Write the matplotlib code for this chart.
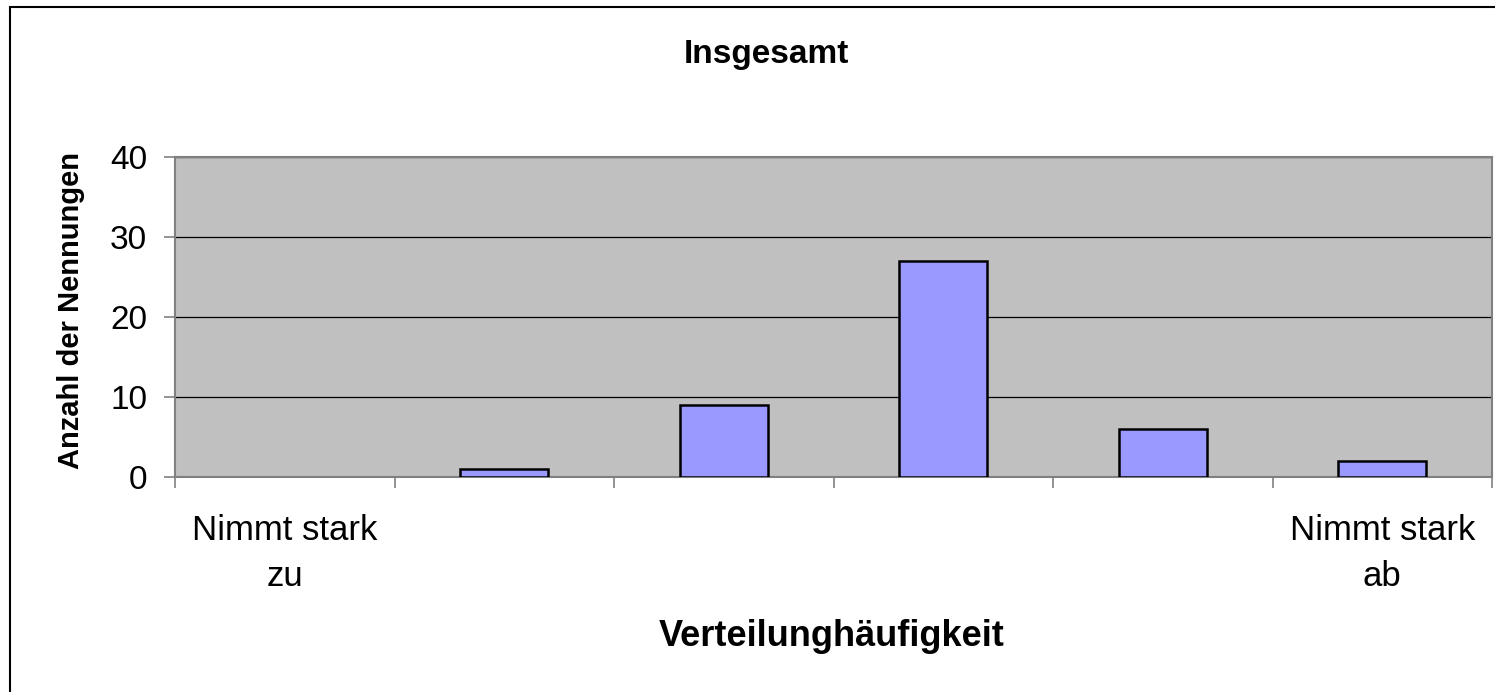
import matplotlib
matplotlib.use("Agg")
import matplotlib.pyplot as plt
from matplotlib.patches import Rectangle
import numpy as np

# data
categories = ["Nimmt stark\nzu", "", "", "", "", "Nimmt stark\nab"]
counts = [0, 1, 9, 27, 6, 2]
y_ticks = [0, 10, 20, 30, 40]

plt.rcParams['font.family'] = ['Liberation Sans', 'DejaVu Sans']

W, H = 1495, 692
fig = plt.figure(figsize=(W / 100, H / 100), dpi=100)
ax = fig.add_axes([175 / W, 1 - 477 / H, (1492 - 175) / W, (477 - 157) / H])

x = np.arange(len(counts))
ax.set_facecolor("#c0c0c0")
edges = ["black" if c > 0 else "none" for c in counts]
ax.bar(x, counts, width=0.4, color="#9999ff", edgecolor=edges, linewidth=1.8, zorder=3)

ax.set_xlim(-0.5, len(counts) - 0.5)
ax.set_ylim(0, 40)
ax.set_yticks(y_ticks)
ax.set_yticklabels([str(v) for v in y_ticks], fontsize=24)
ax.yaxis.grid(True, color="black", linewidth=0.9, zorder=1)
ax.set_axisbelow(True)

# ticks at category boundaries, labels at centres
ax.set_xticks(np.arange(len(counts) + 1) - 0.5)
ax.set_xticklabels([])
ax.set_xticks(x, minor=True)
ax.set_xticklabels(categories, minor=True, fontsize=25, linespacing=1.5)
ax.tick_params(axis="x", which="minor", length=0, pad=27)
ax.tick_params(axis="x", which="major", length=8, color="#808080", width=1.2)
ax.tick_params(axis="y", length=8, color="#808080", width=1.2, pad=12)

for s in ax.spines.values():
    s.set_color("#808080")
    s.set_linewidth(1.5)

ax.set_ylabel("Anzahl der Nennungen", fontsize=21, fontweight="bold")
ax.yaxis.set_label_coords(-0.079, 0.52)
ax.set_xlabel("Verteilunghäufigkeit", fontsize=26, fontweight="bold")
ax.xaxis.set_label_coords(0.499, -0.5)
ax.xaxis.label.set_va("center")
ax.yaxis.label.set_va("center")
fig.text(766 / W, 1 - 55 / H, "Insgesamt", fontsize=24, fontweight="bold",
         ha="center", va="center")

# outer chart border (runs past right/bottom edge)
fig.patches.append(Rectangle((10 / W, -0.1), 1.2, 1.1 - 7 / H, transform=fig.transFigure,
                             fill=False, edgecolor="black", linewidth=1.5))

fig.savefig("out.png", dpi=100)
